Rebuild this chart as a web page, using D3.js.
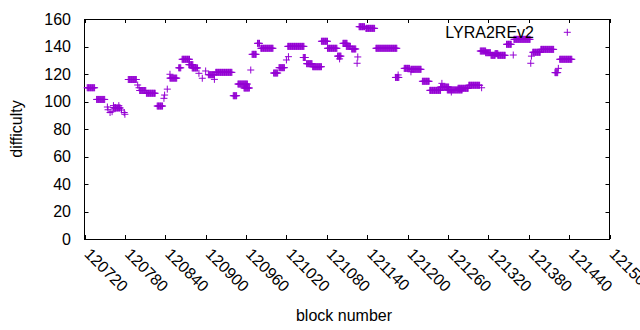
<!DOCTYPE html>
<html>
<head>
<meta charset="utf-8">
<script src="https://cdn.jsdelivr.net/npm/d3@7"></script>
<style>
body{margin:0;background:#fff;}
svg{display:block;font-family:"Liberation Sans",Arial,sans-serif;}
</style>
</head>
<body>
<svg id="chart" width="640" height="330"></svg>
<script>
// runs of consecutive blocks at (nearly) the same difficulty
const runStart = [120724,120738,120763,120766,120785,120802,120812,120828,120847,120860,120865,120875,120880,120904,120915,120941,120948,120957,120969,120977,120982,121001,121009,121022,121045,121050,121059,121072,121081,121096,121104,121109,121117,121128,121138,121153,121182,121195,121205,121222,121233,121249,121259,121275,121291,121308,121316,121324,121330,121334,121347,121358,121386,121398,121419,121426];
const runEnd   = [120735,120750,120766,120773,120797,120811,120825,120836,120857,120863,120876,120881,120888,120913,120939,120946,120962,120965,120975,120980,121000,121007,121017,121046,121048,121058,121072,121081,121095,121101,121110,121115,121123,121136,121151,121184,121187,121203,121220,121232,121249,121261,121281,121290,121307,121316,121323,121330,121334,121345,121354,121382,121397,121417,121423,121444];
const runDiff  = [110,101.5,95.5,95.3,116,108,106,96.7,117,124.5,130.7,126.8,124.4,119.5,121.2,104.2,112.7,109.8,134.3,142.3,138.7,120.7,124.6,140.1,132,127.5,125.3,143.8,138.7,133,142.3,140.1,138.2,154.4,153.2,138.7,117.5,124.1,123.4,114.7,108.1,110.5,108.4,109.6,111.8,136.7,135.5,133.6,134.8,133.6,141.6,145.2,135.8,137.9,121,130.7];
// isolated blocks
const singleBlock = [120754,120755,120758,120761,120763,120771,120775,120779,120780,120799,120801,120838,120839,120843,120847,120890,120895,120900,120913,120967,121020,121023,121099,121125,121126,121186,121205,121251,121265,121310,121357,121383,121384,121424];
const singleDiff  = [96,94,92,92.6,97,97,93.8,92,90.7,112,110,102.3,104.7,109,119.8,120.5,116.9,122.2,116.1,122.9,130.2,132.6,131,127.8,132.4,119.3,121.6,113.2,106.9,110,133.8,127.8,133,124.1];
const xTicks = [120720,120780,120840,120900,120960,121020,121080,121140,121200,121260,121320,121380,121440,121500];
const yTicks = [0,20,40,60,80,100,120,140,160];
const seriesName = "LYRA2REv2";

const points = [];
runStart.forEach((s,i)=>{ for(let b=s;b<=runEnd[i];b++) points.push({b:b,d:runDiff[i]}); });
singleBlock.forEach((b,i)=>points.push({b:b,d:singleDiff[i]}));

const L=84.5,R=609.5,T=19,B=239;
const color="#9400d3";
const svg=d3.select("#chart");
const x=d3.scaleLinear().domain([120720,121500]).range([L,R]);
const y=d3.scaleLinear().domain([0,160]).range([B,T]);

// border
svg.append("rect").attr("x",L).attr("y",T+0.5).attr("width",R-L).attr("height",B-T)
  .attr("fill","none").attr("stroke","#000").attr("stroke-width",1);

const tl=4;
const g=svg.append("g").attr("stroke","#000").attr("stroke-width",1);
xTicks.forEach(t=>{
  const px=Math.round(x(t))+0.5;
  g.append("line").attr("x1",px).attr("x2",px).attr("y1",B).attr("y2",B-tl);
  g.append("line").attr("x1",px).attr("x2",px).attr("y1",T).attr("y2",T+tl);
});
yTicks.forEach(t=>{
  const py=Math.round(y(t))+0.5;
  g.append("line").attr("x1",L).attr("x2",L+tl).attr("y1",py).attr("y2",py);
  g.append("line").attr("x1",R).attr("x2",R-tl).attr("y1",py).attr("y2",py);
});

// tick labels
svg.append("g").selectAll("text").data(yTicks).join("text")
  .attr("x",71).attr("y",d=>y(d)).attr("dy","0.36em").attr("text-anchor","end")
  .attr("font-size",16).attr("fill","#000").text(d=>d);
svg.append("g").selectAll("text").data(xTicks).join("text")
  .attr("transform",d=>`translate(${x(d)-1},${255}) rotate(45)`)
  .attr("font-size",16).attr("fill","#000").text(d=>d);

// axis titles
svg.append("text").attr("transform","translate(22,129) rotate(-90)").attr("text-anchor","middle")
  .attr("font-size",16).text("difficulty");
svg.append("text").attr("x",344).attr("y",321).attr("text-anchor","middle")
  .attr("font-size",16).text("block number");

// points
const h=3.5;
const plus=d=>{const px=x(d.b),py=y(d.d);return `M${px-h},${py}H${px+h}M${px},${py-h}V${py+h}`;};
svg.append("path").attr("d",points.map(plus).join("")).attr("stroke",color).attr("stroke-width",1).attr("fill","none");

// legend
svg.append("text").attr("x",534).attr("y",37.5).attr("text-anchor","end").attr("font-size",16).text(seriesName);
svg.append("path").attr("d",`M${567.3-h},32.3H${567.3+h}M567.3,${32.3-h}V${32.3+h}`).attr("stroke",color).attr("stroke-width",1);
</script>
</body>
</html>
